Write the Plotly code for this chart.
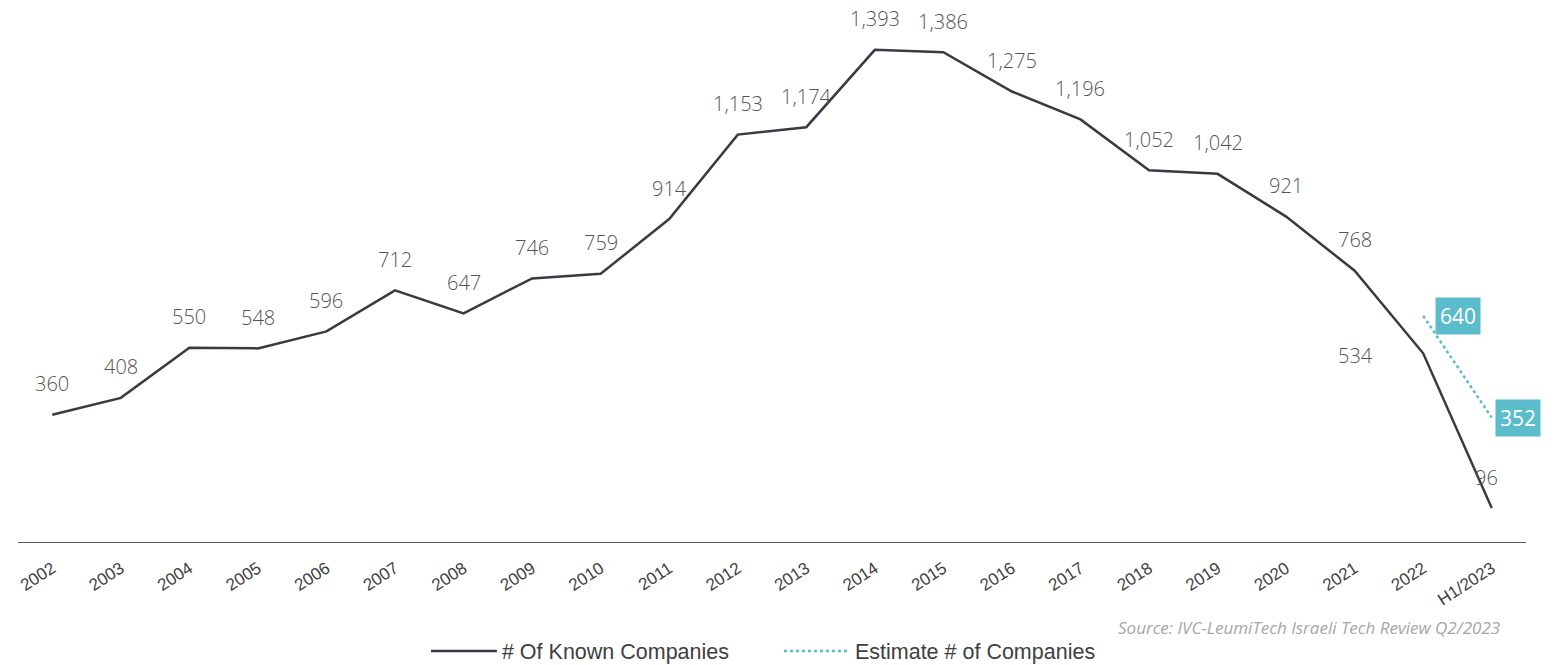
import plotly.graph_objects as go

# Number of Israeli tech companies, known vs. estimated
years = ["2002", "2003", "2004", "2005", "2006", "2007", "2008", "2009", "2010",
         "2011", "2012", "2013", "2014", "2015", "2016", "2017", "2018", "2019",
         "2020", "2021", "2022", "H1/2023"]
known = [360, 408, 550, 548, 596, 712, 647, 746, 759, 914, 1153, 1174, 1393,
         1386, 1275, 1196, 1052, 1042, 921, 768, 534, 96]
est_years = ["2022", "H1/2023"]
estimate = [640, 352]

DARK = "#3b3945"
TEAL = "#5bbccb"
LABEL_GREY = "#555555"

fig = go.Figure()
fig.add_trace(go.Scatter(
    x=years, y=known, mode="lines", name="# Of Known Companies",
    line=dict(color=DARK, width=2.5),
))
fig.add_trace(go.Scatter(
    x=est_years, y=estimate, mode="lines", name="Estimate # of Companies",
    line=dict(color=TEAL, width=2.5, dash="dot"),
))

# value labels above the known series; a couple sit beside their point
# (annotation x uses the category index so numeric-looking names are not misread)
label_shift = {"2022": (-68, -2), "H1/2023": (-5, 31)}
annotations = []
for i, (yr, v) in enumerate(zip(years, known)):
    dx, dy = label_shift.get(yr, (0, 31))
    annotations.append(dict(
        x=i, y=v, text=f"{v:,}", showarrow=False, xshift=dx, yshift=dy,
        xanchor="center", yanchor="middle",
        font=dict(family="Open Sans", size=20, color=LABEL_GREY, weight=300),
    ))

# boxed labels for the estimate
for yr, v, dx in zip(est_years, estimate, (12, 3)):
    annotations.append(dict(
        x=years.index(yr), y=v, text=f"{v:,}", showarrow=False, xshift=dx,
        xanchor="left", yanchor="middle", bgcolor=TEAL, borderpad=4,
        font=dict(family="Open Sans", size=21, color="white"),
    ))

annotations.append(dict(
    xref="paper", yref="paper", x=1.0, y=-0.157, xanchor="right", yanchor="middle",
    xshift=-24, showarrow=False,
    text="<i>Source: IVC-LeumiTech Israeli Tech Review Q2/2023</i>",
    font=dict(family="Open Sans", size=17, color="#a6a6a6"),
))

fig.update_layout(
    width=1562, height=665,
    margin=dict(l=18, r=36, t=0, b=123, autoexpand=False),
    paper_bgcolor="white", plot_bgcolor="white",
    showlegend=True,
    legend=dict(orientation="h", x=0.5046, xanchor="center", y=-0.201, yanchor="middle",
                font=dict(family="Liberation Sans", size=21.5, color="#404040"),
                itemwidth=66, entrywidth=272, entrywidthmode="pixels"),
    annotations=annotations,
    xaxis=dict(
        type="category", categoryorder="array", categoryarray=years,
        range=[-0.5, len(years) - 0.5], automargin=False,
        showgrid=False, zeroline=False, showline=True, linecolor="#595959", linewidth=1,
        ticks="", tickangle=-33, ticklabelstandoff=9,
        tickfont=dict(family="Liberation Sans", size=17, color="#404040"),
    ),
    yaxis=dict(range=[0, 1534], visible=False, showgrid=False, zeroline=False),
)

fig.write_html("out.html")
